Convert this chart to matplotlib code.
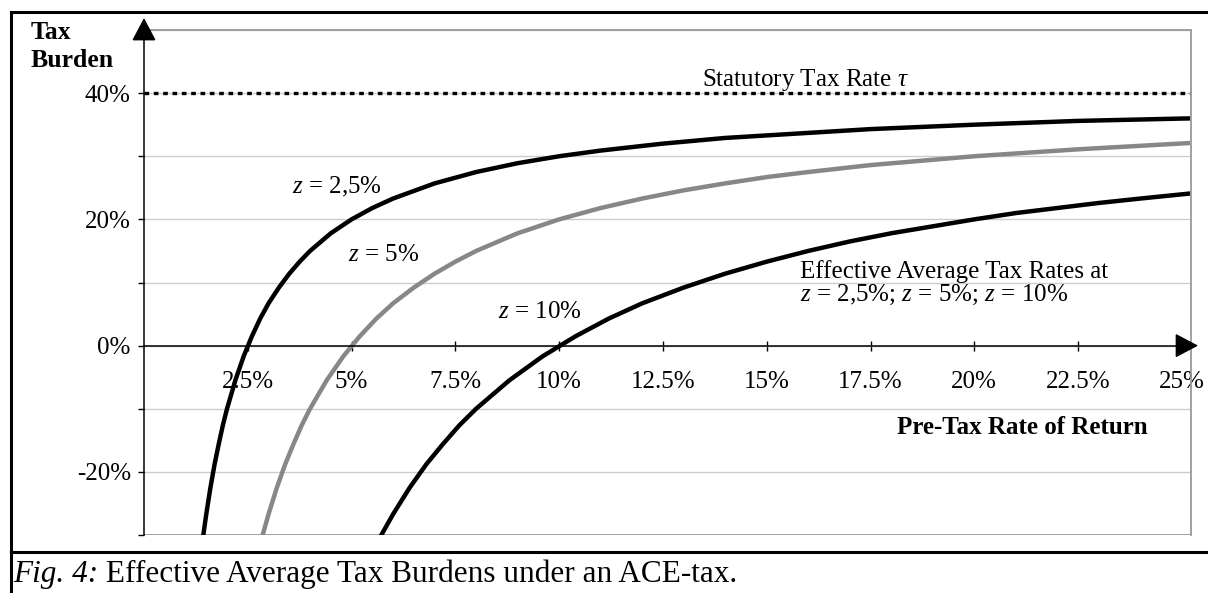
import matplotlib.pyplot as plt
from matplotlib.lines import Line2D

plt.rcParams['font.family'] = ['Liberation Serif', 'DejaVu Serif']
plt.rcParams['mathtext.fontset'] = 'custom'
plt.rcParams['mathtext.rm'] = 'Liberation Serif'
plt.rcParams['mathtext.it'] = 'Liberation Serif:italic'

# pre-tax rate of return (%) and tax burden (%)
p_25 = [1.42, 1.5, 1.6, 1.7, 1.8, 1.9, 2.0, 2.2, 2.4, 2.6, 2.8, 3.0, 3.25, 3.5, 3.75, 4.0,
        4.5, 5.0, 5.5, 6.0, 7.0, 8.0, 9.0, 10.0, 11.0, 12.5, 14.0, 15.0, 17.5, 20.0, 22.5, 25.2]
eatr_25 = [-30.4, -26.7, -22.5, -18.8, -15.6, -12.6, -10.0, -5.5, -1.7, 1.5, 4.3, 6.7, 9.2, 11.4, 13.3, 15.0,
           17.8, 20.0, 21.8, 23.3, 25.7, 27.5, 28.9, 30.0, 30.9, 32.0, 32.9, 33.3, 34.3, 35.0, 35.6, 36.0]

p_5 = [2.85, 3.0, 3.2, 3.4, 3.6, 3.8, 4.0, 4.4, 4.8, 5.2, 5.6, 6.0, 6.5, 7.0, 7.5, 8.0,
       9.0, 10.0, 11.0, 12.0, 13.0, 14.0, 15.0, 16.0, 17.5, 20.0, 22.5, 25.2]
eatr_5 = [-30.2, -26.7, -22.5, -18.8, -15.6, -12.6, -10.0, -5.5, -1.7, 1.5, 4.3, 6.7, 9.2, 11.4, 13.3, 15.0,
          17.8, 20.0, 21.8, 23.3, 24.6, 25.7, 26.7, 27.5, 28.6, 30.0, 31.1, 32.1]

p_10 = [5.7, 6.0, 6.4, 6.8, 7.2, 7.6, 8.0, 8.8, 9.6, 10.4, 11.2, 12.0, 13.0, 14.0, 15.0, 16.0,
        17.0, 18.0, 19.0, 20.0, 21.0, 22.0, 23.0, 24.0, 25.2]
eatr_10 = [-30.2, -26.7, -22.5, -18.8, -15.6, -12.6, -10.0, -5.5, -1.7, 1.5, 4.3, 6.7, 9.2, 11.4, 13.3, 15.0,
           16.5, 17.8, 18.9, 20.0, 21.0, 21.8, 22.6, 23.3, 24.1]

statutory_rate = 40
x_ticks = [2.5, 5, 7.5, 10, 12.5, 15, 17.5, 20, 22.5, 25]
x_labels = ['2.5%', '5%', '7.5%', '10%', '12.5%', '15%', '17.5%', '20%', '22.5%', '25%']
y_ticks = [-30, -20, -10, 0, 10, 20, 30, 40, 50]
y_labels = ['', '-20%', '', '0%', '', '20%', '', '40%', '']

W, H = 1208, 593
fig = plt.figure(figsize=(W / 100, H / 100), dpi=100)
ax = fig.add_axes([144 / W, 1 - 535 / H, (1191 - 144) / W, (535 - 30) / H])
ax.set_xlim(0, 25.22)
ax.set_ylim(-30, 50)

frame_grey = '#999999'
ax.set_yticks(y_ticks)
ax.set_yticklabels(y_labels, fontsize=18)
ax.yaxis.grid(True, color='#cccccc', lw=1)
ax.set_axisbelow(True)
ax.tick_params(axis='y', direction='out', length=4.5, width=1, pad=5)

ax.spines['bottom'].set_position(('data', 0))
ax.spines['bottom'].set_linewidth(1.1)
ax.spines['left'].set_linewidth(1.1)
for s in ('top', 'right'):
    ax.spines[s].set_color(frame_grey)
    ax.spines[s].set_linewidth(1.3)
ax.axhline(-30, color=frame_grey, lw=1.3, zorder=1.5)
ax.set_xticks(x_ticks)
ax.set_xticklabels(x_labels, fontsize=18)
ax.tick_params(axis='x', direction='inout', length=7, width=1, pad=15)

# axis arrows
arrow = dict(arrowstyle='-|>,head_length=0.72,head_width=0.38',
             mutation_scale=20, color='black', lw=1.1, shrinkA=0, shrinkB=0)
ax.annotate('', xy=(0, 51.9), xytext=(0, 49.9), annotation_clip=False, arrowprops=arrow)
ax.annotate('', xy=(25.39, 0), xytext=(25.2, 0), annotation_clip=False, arrowprops=arrow)

# statutory tax rate
ax.axhline(statutory_rate, color='black', lw=2.4, linestyle=(0, (1.4, 1.4)))

ax.plot(p_10, eatr_10, color='black', lw=3.2, solid_capstyle='butt')
ax.plot(p_5, eatr_5, color='#878787', lw=3.2, solid_capstyle='butt')
ax.plot(p_25, eatr_25, color='black', lw=3.2, solid_capstyle='butt')

fs = 18
ax.text(13.44, 41.1, r'Statutory Tax Rate $\tau$', fontsize=fs, va='baseline')
ax.text(3.56, 25.1, r'$z$ = 2,5%', fontsize=fs, va='center')
ax.text(4.91, 14.3, r'$z$ = 5%', fontsize=fs, va='center')
ax.text(8.53, 5.3, r'$z$ = 10%', fontsize=fs, va='center')
ax.text(15.8, 11.7, 'Effective Average Tax Rates at', fontsize=fs, va='center')
ax.text(15.8, 8.0, r'$z$ = 2,5%; $z$ = 5%; $z$ = 10%', fontsize=fs, va='center')
ax.text(18.14, -12.9, 'Pre-Tax Rate of Return', fontsize=fs, va='center', fontweight='bold')

fig.text(31 / W, 1 - 21 / H, 'Tax\nBurden', fontsize=18.5, fontweight='bold', va='top', linespacing=1.3)

# outer frame and caption
for xs, ys in (([11, W], [12, 12]), ([11, 11], [12, H]), ([11, W], [552, 552])):
    fig.add_artist(Line2D([x / W for x in xs], [1 - y / H for y in ys],
                          transform=fig.transFigure, color='black', lw=2.2))
cap = fig.text(13 / W, 1 - 582 / H, 'Fig. 4:', fontsize=22.5, style='italic', va='baseline')
ax.annotate(' Effective Average Tax Burdens under an ACE-tax.', xy=(1, 0), xycoords=cap,
            fontsize=22.5, va='bottom', annotation_clip=False)

plt.savefig('out.png', dpi=100)
